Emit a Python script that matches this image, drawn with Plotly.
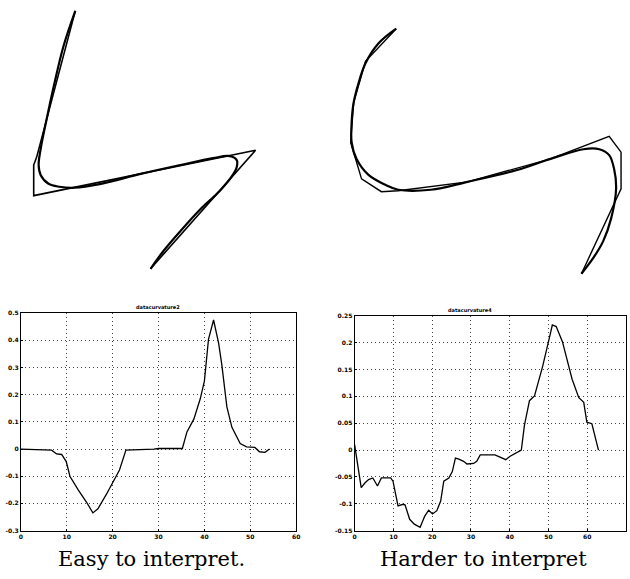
import plotly.graph_objects as go

W, H = 630, 579

# ---- bottom-left curvature plot ----
left_x = [0, 3, 6.7, 7.8, 8.9, 9.9, 10.7, 12.5, 14.3, 15.7, 16.8, 18.6, 20.7, 21.5, 22.9,
          26, 29, 30, 33, 35.2, 36.2, 37.7, 39.1, 40, 40.9, 42, 43.1, 43.8, 44.9, 46,
          47.8, 49.2, 51, 52, 53.2, 54.2]
left_y = [0, -0.002, -0.004, -0.018, -0.02, -0.046, -0.1, -0.15, -0.195, -0.235, -0.22,
          -0.168, -0.104, -0.077, -0.004, -0.003, 0, 0.002, 0.002, 0.002, 0.063, 0.11,
          0.185, 0.25, 0.405, 0.475, 0.39, 0.31, 0.155, 0.08, 0.02, 0.008, 0.006, -0.01,
          -0.012, 0]
left_title = "datacurvature2"
left_xticks = [0, 10, 20, 30, 40, 50, 60]
left_yticks = [-0.3, -0.2, -0.1, 0, 0.1, 0.2, 0.3, 0.4, 0.5]
left_yticklabels = ["-0.3", "-0.2", "-0.1", "0", "0.1", "0.2", "0.3", "0.4", "0.5"]

# ---- bottom-right curvature plot ----
right_x = [0, 1.7, 2.7, 3.6, 4.7, 5.9, 6.9, 8.2, 9.3, 9.9, 11.2, 12.5, 13, 14.2, 15.4, 16.9,
           18.1, 19.1, 20.1, 21.2, 22.2, 23, 24.3, 25.2, 26, 26.9, 28.1, 29, 30.7, 31.5,
           32.4, 36.2, 37.9, 39, 40, 41.5, 43, 43.8, 45.1, 46.4, 48.5, 50.2, 51, 52, 53.6,
           56.1, 57.8, 59.1, 59.9, 61.2, 62.9]
right_y = [0.01, -0.07, -0.061, -0.055, -0.052, -0.067, -0.052, -0.052, -0.052, -0.058,
           -0.104, -0.101, -0.102, -0.129, -0.138, -0.144, -0.123, -0.112, -0.119, -0.113,
           -0.095, -0.058, -0.052, -0.04, -0.015, -0.017, -0.021, -0.026, -0.025, -0.021,
           -0.009, -0.009, -0.015, -0.018, -0.012, -0.006, 0, 0.046, 0.092, 0.101, 0.156,
           0.208, 0.233, 0.23, 0.202, 0.132, 0.098, 0.089, 0.052, 0.049, 0]
right_title = "datacurvature4"
right_xticks = [0, 10, 20, 30, 40, 50, 60, 70]
right_yticks = [-0.15, -0.1, -0.05, 0, 0.05, 0.1, 0.15, 0.2, 0.25]
right_yticklabels = ["-0.15", "-0.1", "-0.05", "0", "0.05", "0.1", "0.15", "0.2", "0.25"]

# ---- top drawings (page coordinates) ----
tl_smooth_x = [74, 62, 53, 45, 39, 37, 39, 47, 58, 73, 100, 140, 180, 213, 230, 237, 237,
               233, 220, 200, 180, 163, 150]
tl_smooth_y = [7, 43, 80, 117, 147, 163, 173, 182, 185, 186, 182, 172, 163, 156, 154, 158,
               165, 173, 189, 208, 230, 250, 268]
tl_poly_x = [74, 35, 32, 32, 256, 150]
tl_poly_y = [7, 155, 163, 194, 148, 268]

tr_smooth_x = [398, 380, 367, 360, 355, 353, 353, 358, 370, 387, 400, 433, 470, 520, 553,
               587, 603, 613, 618, 620, 615, 607, 597, 585]
tr_smooth_y = [25, 40, 60, 80, 100, 120, 140, 157, 173, 183, 188, 188, 180, 168, 157, 147,
               147, 153, 167, 187, 217, 240, 257, 273]
tr_poly_x = [398, 367, 355, 352, 363, 383, 400, 470, 553, 613, 625, 625, 585]
tr_poly_y = [25, 58, 100, 140, 177, 190, 189, 180, 157, 134, 150, 187, 273]

captions = ["Easy to interpret.", "Harder to interpret"]

fig = go.Figure()

line = dict(color="black", width=1.3)
fig.add_trace(go.Scatter(x=left_x, y=left_y, mode="lines", line=line, xaxis="x", yaxis="y"))
fig.add_trace(go.Scatter(x=right_x, y=right_y, mode="lines", line=line, xaxis="x2", yaxis="y2"))

fig.add_trace(go.Scatter(x=tl_poly_x, y=tl_poly_y, mode="lines",
                         line=dict(color="black", width=1.6), xaxis="x3", yaxis="y3"))
fig.add_trace(go.Scatter(x=tl_smooth_x, y=tl_smooth_y, mode="lines", line_shape="spline",
                         line=dict(color="black", width=2.2), xaxis="x3", yaxis="y3"))
fig.add_trace(go.Scatter(x=tr_poly_x, y=tr_poly_y, mode="lines",
                         line=dict(color="black", width=1.4), xaxis="x3", yaxis="y3"))
fig.add_trace(go.Scatter(x=tr_smooth_x, y=tr_smooth_y, mode="lines", line_shape="spline",
                         line=dict(color="black", width=2.2), xaxis="x3", yaxis="y3"))

tickfont = dict(family="DejaVu Sans", size=6, color="black", weight="bold")
common = dict(showline=True, linecolor="black", linewidth=1, mirror=True,
              showgrid=True, gridcolor="#444", griddash="1px,3px", gridwidth=1,
              zeroline=False, ticks="inside", ticklen=2, tickcolor="black",
              tickfont=tickfont, fixedrange=True)

def dom(px0, px1, total):
    return [px0 / total, px1 / total]

fig.update_layout(
    width=W, height=H, margin=dict(l=0, r=0, t=0, b=0),
    paper_bgcolor="white", plot_bgcolor="rgba(0,0,0,0)", showlegend=False,
    xaxis=dict(domain=dom(19, 297, W), range=[0, 60], tickvals=left_xticks,
               anchor="y", **common),
    yaxis=dict(domain=[1 - 533 / H, 1 - 313 / H], range=[-0.3, 0.5],
               tickvals=left_yticks, ticktext=left_yticklabels, anchor="x", **common),
    xaxis2=dict(domain=dom(356, 630, W), range=[0, 70], tickvals=right_xticks,
                anchor="y2", **common),
    yaxis2=dict(domain=[1 - 533 / H, 1 - 315.7 / H], range=[-0.15, 0.25],
                tickvals=right_yticks, ticktext=right_yticklabels, anchor="x2", **common),
    xaxis3=dict(domain=[0, 1], range=[0, W], visible=False, anchor="y3", fixedrange=True),
    yaxis3=dict(domain=[0, 1], range=[H, 0], visible=False, anchor="x3", fixedrange=True),
)

titlefont = dict(family="DejaVu Sans", size=5, color="black", weight="bold")
fig.add_annotation(text=left_title, x=0.5, y=1, xref="x domain", yref="y domain",
                   xanchor="center", yanchor="bottom", yshift=1, showarrow=False,
                   font=titlefont)
fig.add_annotation(text=right_title, x=(472 - 356) / (630 - 356), y=1, xref="x2 domain",
                   yref="y2 domain", xanchor="center", yanchor="bottom", yshift=1,
                   showarrow=False, font=titlefont)

capfont = dict(family="DejaVu Serif", size=21, color="black")
fig.add_annotation(text=captions[0], x=151, y=562, xref="x3", yref="y3",
                   xanchor="center", yanchor="middle", showarrow=False, font=capfont)
fig.add_annotation(text=captions[1], x=486, y=562, xref="x3", yref="y3",
                   xanchor="center", yanchor="middle", showarrow=False, font=capfont)

fig.write_html("out.html")
